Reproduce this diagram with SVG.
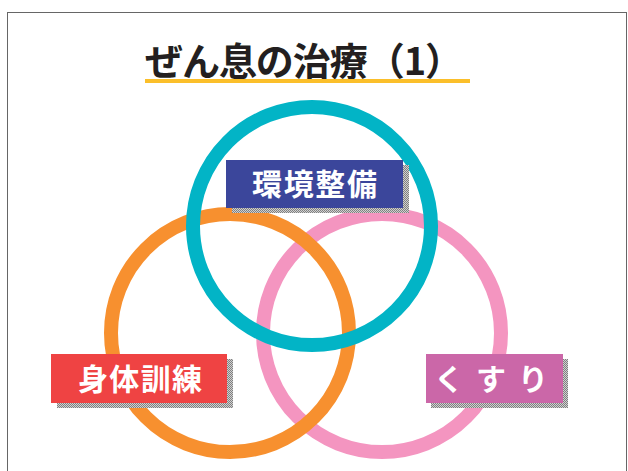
<svg xmlns="http://www.w3.org/2000/svg" width="628" height="471" viewBox="0 0 628 471">
<defs>
<pattern id="dither" width="2" height="2" patternUnits="userSpaceOnUse">
<rect width="2" height="2" fill="#d0d0d0"/>
<rect width="1" height="1" fill="#808080"/>
<rect x="1" y="1" width="1" height="1" fill="#808080"/>
</pattern>
</defs>
<style>
.ring{fill:none;stroke-width:14}
.shadow{fill:url(#dither)}
.lbl{font-family:"Noto Sans CJK JP","Noto Sans",sans-serif;font-weight:bold;font-size:30px;fill:#ffffff;text-anchor:middle}
.title{font-family:"Noto Sans CJK JP","Noto Sans",sans-serif;font-weight:bold;font-size:38px;fill:#231f20}
</style>
<rect x="0" y="0" width="628" height="471" fill="#ffffff"/>
<rect x="7.5" y="12.5" width="619" height="470" fill="none" stroke="#666666" stroke-width="1"/>
<g id="title">
<text class="title" x="145" y="75" textLength="318" lengthAdjust="spacing">ぜん息の治療（1）</text>
<rect x="145" y="79" width="325" height="4" fill="#fbbf2a"/>
</g>
<g id="connectors">
<circle class="ring" cx="382" cy="333" r="119" stroke="#f495c0"/>
<circle class="ring" cx="230" cy="333" r="119" stroke="#f7902f"/>
<circle class="ring" cx="312" cy="226" r="119" stroke="#02b4c6"/>
</g>
<g id="env">
<rect class="shadow" x="232" y="165" width="177" height="48"/>
<rect x="226" y="160" width="177" height="48" fill="#3b469b"/>
<text class="lbl" x="314.5" y="195" textLength="125" lengthAdjust="spacing">環境整備</text>
</g>
<g id="body">
<rect class="shadow" x="57" y="359" width="176" height="49"/>
<rect x="51" y="354" width="176" height="49" fill="#ef4343"/>
<text class="lbl" x="140" y="390" textLength="124" lengthAdjust="spacing">身体訓練</text>
</g>
<g id="medicine">
<rect class="shadow" x="431" y="359" width="137" height="49"/>
<rect x="426" y="354" width="137" height="49" fill="#cb67a8"/>
<text class="lbl" x="491" y="390" textLength="114" lengthAdjust="spacing">く す り</text>
</g>
</svg>
